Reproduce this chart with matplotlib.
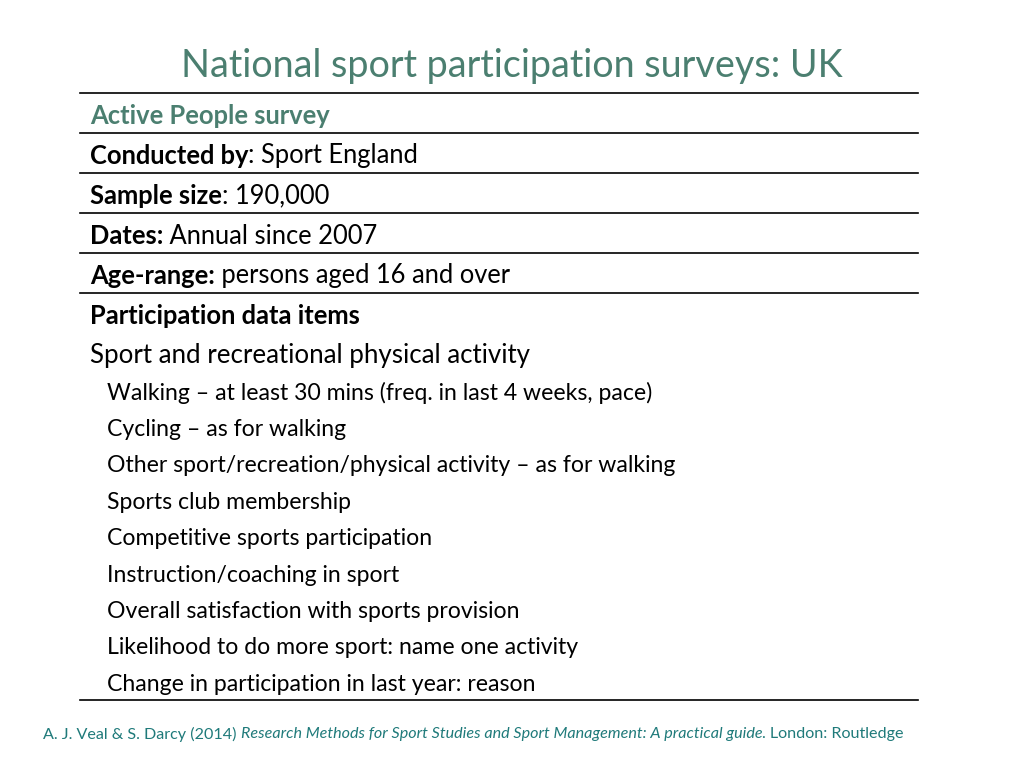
import matplotlib
matplotlib.use("Agg")
import matplotlib.pyplot as plt

title = "National sport participation surveys: UK"
header = "Active People survey"
rows_bold = ["Conducted by", "Sample size", "Dates:", "Age-range:"]
rows_rest = [": Sport England", ": 190,000", " Annual since 2007", " persons aged 16 and over"]
section = "Participation data items"
subhead = "Sport and recreational physical activity"
items = ["Walking \u2013 at least 30 mins (freq. in last 4 weeks, pace)",
         "Cycling \u2013 as for walking",
         "Other sport/recreation/physical activity \u2013 as for walking",
         "Sports club membership",
         "Competitive sports participation",
         "Instruction/coaching in sport",
         "Overall satisfaction with sports provision",
         "Likelihood to do more sport: name one activity",
         "Change in participation in last year: reason"]
cite_a = "A. J. Veal & S. Darcy (2014) "
cite_b = "Research Methods for Sport Studies and Sport Management: A practical guide"
cite_c = ". London: Routledge"

FONT = "Lato"
GREEN = "#4b7f70"
TEAL = "#1f7a7a"
fig = plt.figure(figsize=(10.24, 7.68), dpi=100)
ax = fig.add_axes([0, 0, 1, 1])
ax.set_xlim(0, 1024); ax.set_ylim(768, 0); ax.axis("off")
fig.canvas.draw()
r = fig.canvas.get_renderer()

def txt(x, y, s, **kw):
    t = ax.text(x, y, s, va="center", ha="left", family=FONT, **kw)
    bb = t.get_window_extent(renderer=r)
    return x + bb.width

ax.text(512, 66, title, ha="center", va="center", family=FONT, fontsize=27.2, color=GREEN)
for y in [93, 133, 173, 213, 253, 293, 700]:
    ax.plot([80, 918], [y, y], color="black", lw=1.2)
txt(90, 116, header, fontsize=18.4, color=GREEN, weight="bold")
for i, (b, rest) in enumerate(zip(rows_bold, rows_rest)):
    y = 156 + 40 * i
    x = txt(90, y, b, fontsize=18.4, weight="bold", color="black")
    txt(x, y, rest, fontsize=18.4, color="black")
txt(90, 316, section, fontsize=18.4, weight="bold", color="black")
txt(90, 356, subhead, fontsize=18.6, color="black")
for i, s in enumerate(items):
    txt(107, 393 + 36.4 * i, s, fontsize=16.6, color="black")
x = txt(43, 734, cite_a, fontsize=11.6, color=TEAL)
x = txt(x, 734, cite_b, fontsize=11.6, color=TEAL, style="italic")
txt(x, 734, cite_c, fontsize=11.6, color=TEAL)
fig.savefig("out.png", dpi=100)
